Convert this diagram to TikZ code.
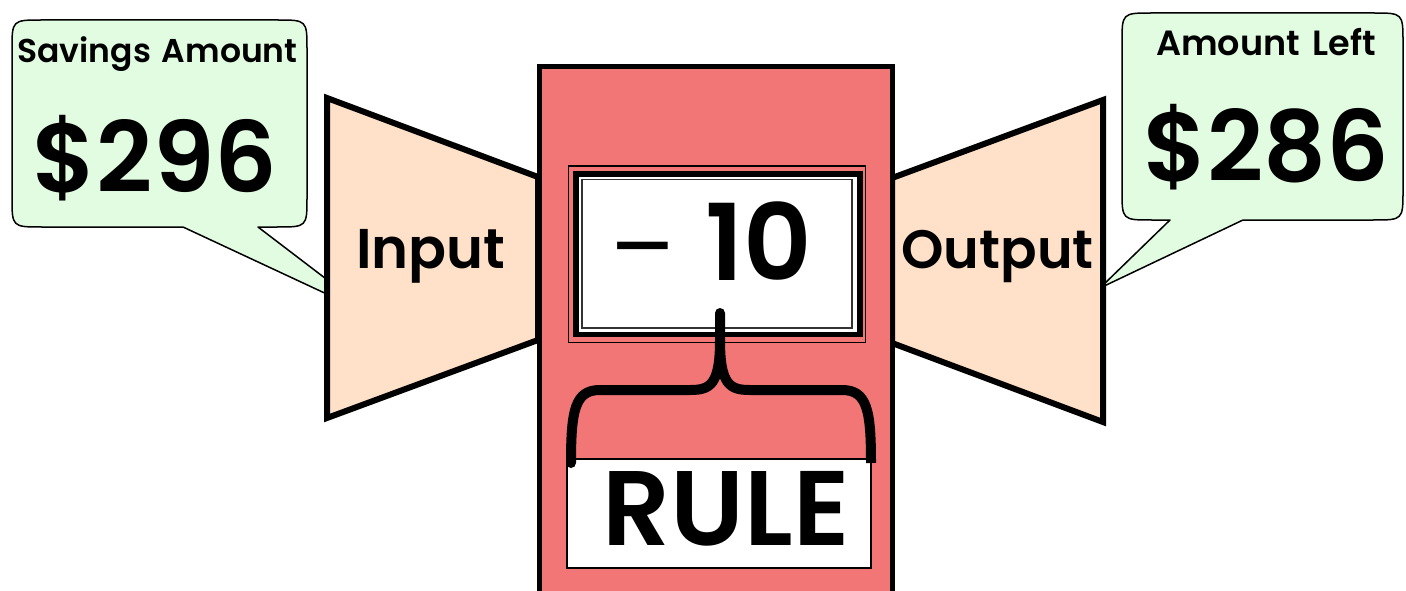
\documentclass[tikz,border=0pt]{standalone}
\usepackage{fontspec}
\setmainfont{Poppins}[BoldFont={Poppins SemiBold}]
\newfontfamily\minusfont{Liberation Sans}
\definecolor{redfill}{RGB}{242,118,118}
\definecolor{peach}{RGB}{255,224,200}
\definecolor{mint}{RGB}{226,252,226}
\newcommand{\fsz}[1]{\fontsize{#1}{#1}\selectfont\bfseries}
\tikzset{
  lbl/.style={inner sep=0pt, anchor=base},
  callout/.style={fill=mint, draw=black, line width=1.5pt, line join=round},
  funnel/.style={fill=peach, draw=black, line width=6pt, line join=miter},
  thinframe/.style={draw=black, line width=1.5pt},
}
\begin{document}
\begin{tikzpicture}[x=1pt,y=-1pt]
\clip (0,0) rectangle (1406,591);
\fill[white] (0,0) rectangle (1406,591);
% left callout
\draw[callout] (183,227) -- (376,317) -- (258,227) -- (277,227)
  .. controls (307,227) .. (307,197) -- (307,50) .. controls (307,20) .. (277,20)
  -- (42,20) .. controls (12,20) .. (12,50) -- (12,197) .. controls (12,227) .. (42,227) -- cycle;
% right callout
\draw[callout] (1170,220) -- (1100,288) -- (1243,220) -- (1373,220)
  .. controls (1403,220) .. (1403,190) -- (1403,43) .. controls (1403,13) .. (1373,13)
  -- (1152,13) .. controls (1122,13) .. (1122,43) -- (1122,190) .. controls (1122,220) .. (1152,220) -- cycle;
% funnels
\draw[funnel] (327,98) -- (538,177) -- (538,340) -- (327,418) -- cycle;
\draw[funnel] (892,178) -- (1103,100) -- (1103,422) -- (892,343) -- cycle;
% machine body
\draw[fill=redfill, draw=black, line width=5pt] (539,67) rectangle (892,620);
% rule frame
\draw[thinframe] (568.5,166) rectangle (865.5,342.5);
\draw[fill=white, draw=black, line width=5.5pt] (576,174) rectangle (860,334.5);
\draw[thinframe, line width=1.2pt, draw=black!80] (582,179.5) rectangle (852,328);
% rule label box
\node[fill=white, draw=black, line width=1.5pt, minimum width=304pt, minimum height=109pt, inner sep=0pt, anchor=north west] (rulebox) at (566,458) {};
% brace
\draw[line width=10pt, line cap=round, line join=round] (720,313) -- (720,340)
  .. controls (720,385) and (710,390) .. (690,390) -- (600,390)
  .. controls (575,390) and (571,410) .. (571,463);
\draw[line width=10pt, line join=round] (720,340)
  .. controls (720,385) and (730,390) .. (750,390) -- (842,390)
  .. controls (867,390) and (871,410) .. (871,463);
% texts
\node[lbl] (savlbl) at (157.5,63) {\fsz{33}Savings\ \hspace{3pt}Amount};
\node[lbl] (savval) at (155,193) {\fsz{98}\$296};
\node[lbl] (leftlbl) at (1266,56) {\fsz{35}Amount\ \hspace{4pt}Left};
\node[lbl] (leftval) at (1266.5,182) {\fsz{98}\$286};
\node[lbl] (inlbl) at (431,268) {\fsz{56}Input};
\node[lbl] (outlbl) at (997.5,268) {\fsz{54}Output};
\node[lbl] (rule) at (712.5,280) {{\fontsize{104}{104}\minusfont −}\hspace{32pt}\fsz{106}10};
\node[lbl] (ruletxt) at (726,545) {\fsz{106}RULE};
\end{tikzpicture}
\end{document}
